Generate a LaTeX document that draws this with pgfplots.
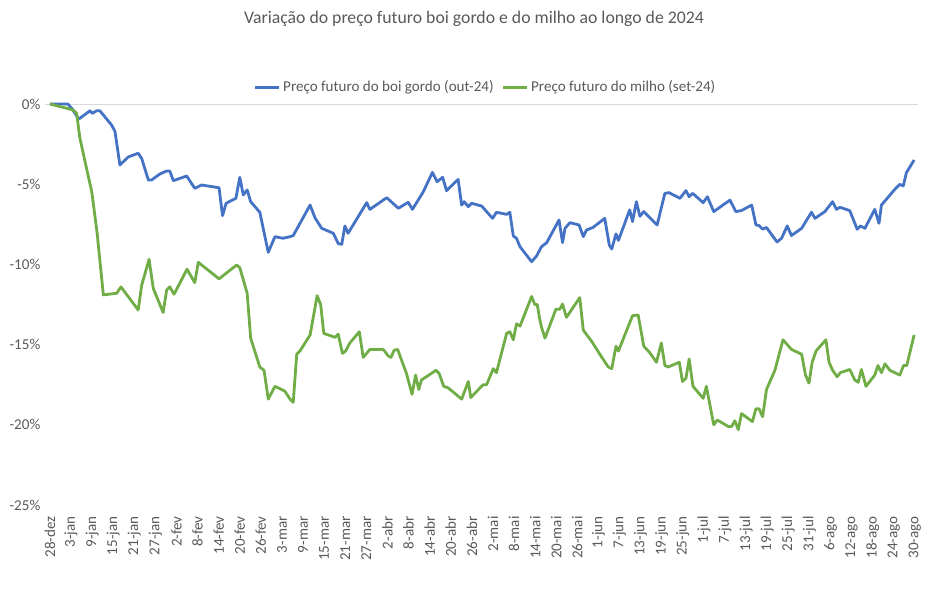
\documentclass[border=0pt]{standalone}
\usepackage{fontspec}
\setmainfont{Carlito}
\usepackage{pgfplots}
\pgfplotsset{compat=1.18}
\definecolor{boi}{HTML}{4472C4}
\definecolor{milho}{HTML}{70AD47}
\definecolor{txt}{HTML}{595959}
\definecolor{axln}{HTML}{D9D9D9}
\begin{document}
\begin{tikzpicture}
\path[use as bounding box] (-33.75pt,-63pt) rectangle (677.25pt,378.75pt);
\node[text=txt, font=\fontsize{13.3}{16}\selectfont] at (321.75pt,364.5pt) {Variação do preço futuro boi gordo e do milho ao longo de 2024};
\begin{axis}[
  scale only axis, width=654.75pt, height=300.75pt,
  xmin=-1.4, xmax=246.9, ymin=-25, ymax=0,
  clip=false,
  axis line style={draw=none},
  major tick length=0pt,
  xtick={0,6,...,246},
  xticklabels={28-dez,3-jan,9-jan,15-jan,21-jan,27-jan,2-fev,8-fev,14-fev,20-fev,26-fev,3-mar,9-mar,15-mar,21-mar,27-mar,2-abr,8-abr,14-abr,20-abr,26-abr,2-mai,8-mai,14-mai,20-mai,26-mai,1-jun,7-jun,13-jun,19-jun,25-jun,1-jul,7-jul,13-jul,19-jul,25-jul,31-jul,6-ago,12-ago,18-ago,24-ago,30-ago},
  xticklabel style={rotate=90, anchor=east, font=\fontsize{11.3}{13}\selectfont, text=txt},
  xticklabel shift=5pt,
  ytick={-25,-20,-15,-10,-5,0},
  yticklabels={-25\%,-20\%,-15\%,-10\%,-5\%,0\%},
  yticklabel style={font=\fontsize{11.3}{13}\selectfont, text=txt},
  extra y ticks={0}, extra y tick labels={},
  extra y tick style={grid=major, major grid style={draw=axln, line width=0.75pt}},
  legend columns=2,
  legend style={at={(0.505,1.042)}, anchor=center, draw=none, fill=none,
    font=\fontsize{11.3}{13}\selectfont, text=txt,
    /tikz/every even column/.append style={column sep=4pt}},
  legend image code/.code={\draw[#1] (0pt,0pt) -- (18pt,0pt);},
]
\addplot[boi, line width=2.1pt, line join=round] table {
x y
0 0
5.1 0
6.3 -0.3
8.2 -0.94
11.4 -0.42
12.1 -0.58
13.3 -0.42
14.2 -0.42
17.5 -1.3
18.5 -1.7
19.9 -3.8
22.3 -3.3
25.1 -3.07
26.1 -3.4
28.0 -4.74
28.9 -4.74
31.3 -4.36
33.2 -4.18
34.1 -4.18
35.1 -4.78
38.9 -4.49
41.2 -5.26
43.1 -5.05
48.1 -5.22
49.1 -6.96
50.1 -6.19
52.9 -5.88
54.0 -4.57
55.0 -5.67
56.1 -5.36
57.1 -6.09
59.7 -6.75
62.1 -9.25
64.0 -8.27
66.3 -8.37
68.3 -8.27
69.2 -8.2
74.0 -6.3
75.4 -7.1
77.3 -7.75
80.6 -8.06
82.0 -8.7
83.0 -8.75
83.9 -7.6
84.8 -8.06
90.1 -6.15
91.0 -6.57
95.8 -5.84
99.1 -6.5
101.9 -6.13
103.1 -6.57
106.2 -5.47
108.8 -4.26
110.1 -4.84
111.7 -4.57
112.8 -5.4
116.1 -4.7
117.1 -6.3
117.8 -6.09
119.0 -6.4
119.9 -6.19
122.8 -6.36
125.9 -7.13
127.0 -6.75
129.9 -6.88
130.8 -6.75
131.8 -8.23
132.7 -8.37
133.7 -8.9
137.0 -9.83
138.4 -9.48
139.8 -8.9
141.3 -8.64
144.8 -7.23
145.8 -8.64
146.5 -7.75
147.9 -7.4
150.5 -7.54
151.7 -8.27
152.6 -7.86
154.5 -7.69
157.8 -7.13
159.1 -8.79
159.8 -9.04
161.0 -8.1
161.7 -8.5
164.9 -6.6
165.7 -7.33
166.8 -6.09
167.8 -7.0
168.9 -6.71
172.7 -7.54
174.9 -5.57
176.1 -5.53
179.2 -5.88
180.9 -5.4
181.8 -5.78
182.8 -5.57
185.8 -6.15
187.0 -5.78
188.8 -6.71
193.4 -5.99
195.1 -6.71
196.7 -6.64
199.6 -6.3
200.8 -7.54
201.7 -7.58
202.7 -7.8
203.8 -7.7
206.8 -8.6
208.1 -8.37
209.7 -7.6
210.9 -8.2
213.8 -7.75
216.6 -6.75
217.6 -7.13
220.4 -6.71
222.6 -6.09
223.7 -6.57
224.7 -6.44
227.5 -6.65
229.6 -7.81
230.5 -7.6
231.8 -7.75
234.6 -6.57
235.8 -7.44
236.5 -6.3
237.9 -5.94
240.3 -5.32
241.7 -5.01
242.7 -5.11
243.6 -4.28
245.8 -3.49
};
\addlegendentry{Preço futuro do boi gordo (out-24)}
\addplot[milho, line width=2.1pt, line join=round] table {
x y
0 0
6.6 -0.37
7.6 -0.58
8.5 -2.1
10.0 -3.6
11.9 -5.47
13.4 -8.0
15.2 -11.9
19.0 -11.8
20.2 -11.4
25.1 -12.84
26.1 -11.3
28.2 -9.68
29.4 -11.5
32.2 -13.0
33.2 -11.6
34.1 -11.4
35.3 -11.86
39.0 -10.3
41.2 -11.14
42.2 -9.87
48.1 -10.9
53.1 -10.04
54.0 -10.2
56.1 -11.8
57.1 -14.6
59.7 -16.4
60.9 -16.6
62.1 -18.4
64.0 -17.6
66.8 -17.9
68.3 -18.4
69.2 -18.6
70.2 -15.6
71.1 -15.4
74.0 -14.4
76.0 -11.95
77.0 -12.5
77.9 -14.3
81.1 -14.55
82.0 -14.35
83.2 -15.55
84.1 -15.4
85.3 -14.9
88.0 -14.2
89.1 -15.8
91.0 -15.3
94.8 -15.3
96.2 -15.7
97.0 -15.8
97.9 -15.35
98.9 -15.3
101.4 -16.8
103.0 -18.1
104.0 -16.9
104.9 -17.8
105.7 -17.2
107.1 -17.0
109.8 -16.6
110.7 -16.8
112.0 -17.6
113.3 -17.7
117.1 -18.4
119.0 -17.3
119.7 -18.3
123.2 -17.5
124.2 -17.5
126.1 -16.5
127.0 -16.75
129.9 -14.3
130.8 -14.2
131.8 -14.7
132.7 -13.7
133.7 -13.85
137.0 -12.0
137.9 -12.5
138.6 -12.5
139.3 -13.4
139.8 -13.9
140.8 -14.6
143.9 -12.8
145.0 -12.8
145.8 -12.47
146.9 -13.3
150.7 -12.07
151.7 -14.1
154.1 -14.8
156.4 -15.6
158.8 -16.4
159.8 -16.5
161.0 -15.1
161.7 -15.4
165.7 -13.2
167.3 -13.15
168.9 -15.1
170.6 -15.5
172.5 -16.1
173.9 -14.9
174.9 -16.3
175.8 -16.4
179.0 -16.1
179.9 -17.3
180.9 -17.1
181.8 -15.9
182.9 -17.6
185.8 -18.35
186.7 -17.6
188.8 -20.0
189.8 -19.7
192.9 -20.1
193.9 -20.1
194.8 -19.75
195.8 -20.3
196.7 -19.3
199.8 -19.8
200.8 -19.0
201.7 -19.0
202.7 -19.5
203.8 -17.8
206.2 -16.6
208.5 -14.7
210.9 -15.3
213.8 -15.6
214.9 -16.9
215.9 -17.4
216.8 -16.1
217.9 -15.4
220.7 -14.7
221.6 -16.1
222.6 -16.6
223.9 -17.0
224.8 -16.75
227.5 -16.55
228.9 -17.2
229.9 -17.35
230.8 -16.55
232.1 -17.6
234.6 -16.9
235.5 -16.3
236.5 -16.75
237.5 -16.2
238.9 -16.6
241.7 -16.9
242.8 -16.3
243.7 -16.3
245.8 -14.4
};
\addlegendentry{Preço futuro do milho (set-24)}
\end{axis}
\end{tikzpicture}
\end{document}
